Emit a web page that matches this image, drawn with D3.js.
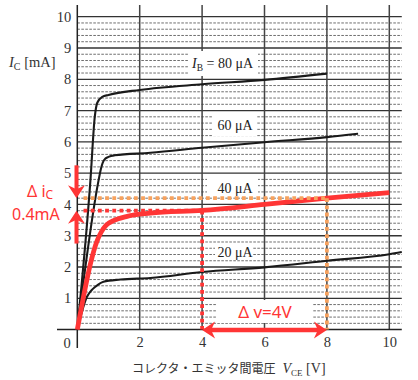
<!DOCTYPE html>
<html><head><meta charset="utf-8">
<script src="https://cdn.jsdelivr.net/npm/d3@7"></script>
<style>body{margin:0;background:#fff}svg{display:block}</style>
</head><body>
<svg id="c" width="418" height="380"></svg>
<script>
// ---- data ----
const xTicks = [2, 4, 6, 8, 10];
const yTicks = [1, 2, 3, 4, 5, 6, 7, 8, 9, 10];
const ib80V = [0, 0.42, 0.56, 0.64, 0.8, 1.0, 2.0, 4, 6, 8];
const ib80I = [0, 4.76, 6.8, 7.25, 7.44, 7.5, 7.66, 7.84, 7.98, 8.18];
const ib60V = [0, 0.68, 0.76, 0.86, 1.0, 1.2, 2.34, 4, 6, 8, 9];
const ib60I = [0, 4.76, 5.15, 5.42, 5.52, 5.57, 5.65, 5.81, 5.99, 6.15, 6.26];
const ib40V = [0, 0.66, 0.78, 0.92, 1.16, 1.6, 2.34, 4, 6, 8, 10];
const ib40I = [0, 2.9, 3.14, 3.33, 3.48, 3.62, 3.72, 3.81, 4.0, 4.2, 4.38];
const ib20V = [0, 0.31, 0.45, 0.58, 0.84, 1.38, 2.34, 4, 6, 8, 10, 10.4];
const ib20I = [0, 1.05, 1.25, 1.37, 1.53, 1.6, 1.65, 1.84, 1.99, 2.2, 2.41, 2.48];
const v1 = 4, v2 = 8;       // Δv endpoints
const i1 = 3.8, i2 = 4.2;   // Δi endpoints
const curveLabels = ["60 μA", "40 μA", "20 μA"];

// ---- scales ----
const svg = d3.select("#c");
const x = d3.scaleLinear().domain([0, 10]).range([77.3, 389.3]);
const y = d3.scaleLinear().domain([0, 10]).range([329.6, 16.7]);
const serif = "'Liberation Serif','DejaVu Serif',serif";
const sans = "'Noto Sans','DejaVu Sans',sans-serif";
const RED = "#ff3535", ORANGE = "#f7a25e", TXT = "#333";

// ---- grid ----
const g = svg.append("g");
const minor = d3.range(1, 50).map(d => d / 5).filter(d => Math.abs(d - Math.round(d)) > 1e-6);
g.selectAll(".mn").data(minor).join("line")
  .attr("x1", x(0)).attr("x2", x(10.4)).attr("y1", d => y(d)).attr("y2", d => y(d))
  .attr("stroke", "#5e5e5e").attr("stroke-width", 0.9).attr("stroke-dasharray", "2.6,1.4");
g.selectAll(".mj").data(yTicks).join("line")
  .attr("x1", x(0)).attr("x2", x(10.4)).attr("y1", d => y(d)).attr("y2", d => y(d))
  .attr("stroke", "#333").attr("stroke-width", 1.3);
g.selectAll(".vg").data(xTicks).join("line")
  .attr("x1", d => x(d)).attr("x2", d => x(d)).attr("y1", 5).attr("y2", y(0))
  .attr("stroke", "#444").attr("stroke-width", 1.5);
// axes lines
g.append("line").attr("x1", 57).attr("x2", x(10.4)).attr("y1", y(0)).attr("y2", y(0))
  .attr("stroke", "#222").attr("stroke-width", 1.5);
g.append("line").attr("x1", x(0)).attr("x2", x(0)).attr("y1", 5).attr("y2", 348)
  .attr("stroke", "#222").attr("stroke-width", 1.5);

// ---- label boxes (white) ----
const boxes = [
  [188, 51, 70, 25], [213, 114, 44, 22], [207, 174, 51, 20], [215, 243, 38, 17], [217, 300, 96, 23]
];
svg.selectAll(".bx").data(boxes).join("rect")
  .attr("x", d => d[0]).attr("y", d => d[1]).attr("width", d => d[2]).attr("height", d => d[3])
  .attr("fill", "#fff");

// ---- tick labels via axes ----
const ax = svg.append("g").attr("transform", `translate(0,${y(0)})`)
  .call(d3.axisBottom(x).tickValues(xTicks).tickSize(0).tickPadding(7));
ax.select(".domain").remove();
ax.selectAll("text").attr("font-family", serif).attr("font-size", 14.5).attr("fill", TXT);
const ay = svg.append("g").attr("transform", `translate(${x(0)},0)`)
  .call(d3.axisLeft(y).tickValues(yTicks).tickSize(0).tickPadding(6));
ay.select(".domain").remove();
ay.selectAll("text").attr("font-family", serif).attr("font-size", 14.5).attr("fill", TXT);
svg.append("text").attr("x", 67).attr("y", 348).attr("text-anchor", "middle")
  .attr("font-family", serif).attr("font-size", 14.5).attr("fill", TXT).text("0");

// axis titles
const yt = svg.append("text").attr("x", 9).attr("y", 67).attr("font-family", serif)
  .attr("font-size", 14.5).attr("fill", TXT);
yt.append("tspan").attr("font-style", "italic").text("I");
yt.append("tspan").attr("font-size", 10).attr("dy", 3).text("C");
yt.append("tspan").attr("dy", -3).text(" [mA]");
const xt = svg.append("text").attr("x", 132).attr("y", 373).attr("font-size", 12).attr("fill", TXT);
xt.append("tspan").attr("font-family", "'Noto Sans CJK JP',sans-serif").text("コレクタ・エミッタ間電圧");
xt.append("tspan").attr("font-family", serif).attr("font-style", "italic").attr("font-size", 14).attr("dx", 7).text("V");
xt.append("tspan").attr("font-family", serif).attr("font-size", 9).attr("dy", 3).text("CE");
xt.append("tspan").attr("font-family", serif).attr("font-size", 14).attr("dy", -3).text(" [V]");

// ---- curves ----
const line = d3.line().x(d => x(d[0])).y(d => y(d[1])).curve(d3.curveMonotoneX);
const zip = (a, b) => a.map((v, i) => [v, b[i]]);
[[ib80V, ib80I], [ib60V, ib60I], [ib20V, ib20I]].forEach(([vv, ii]) => {
  svg.append("path").attr("d", line(zip(vv, ii))).attr("fill", "none")
    .attr("stroke", "#1a1a1a").attr("stroke-width", 2.1);
});
// dotted guides
const dot = (x1, y1, x2, y2, c) => svg.append("line").attr("x1", x1).attr("y1", y1)
  .attr("x2", x2).attr("y2", y2).attr("stroke", c).attr("stroke-width", 3.8)
  .attr("stroke-dasharray", "3.8,3.4");
dot(x(0.2), y(i1), x(v1), y(i1), RED);
dot(x(v1), y(i1), x(v1), y(0), RED);
svg.append("path").attr("d", line(zip(ib40V, ib40I))).attr("fill", "none")
  .attr("stroke", RED).attr("stroke-width", 4.8);
dot(x(0.2), y(i2), x(v2), y(i2), ORANGE);
dot(x(v2), y(i2), x(v2), y(0), ORANGE);

// ---- curve labels ----
const lab80 = svg.append("text").attr("x", 192).attr("y", 68).attr("font-family", serif)
  .attr("font-size", 14).attr("fill", "#222");
lab80.append("tspan").attr("font-style", "italic").text("I");
lab80.append("tspan").attr("font-size", 9.5).attr("dy", 3).text("B");
lab80.append("tspan").attr("dy", -3).text(" = 80 μA");
const labY = [130, 193, 257];
curveLabels.forEach((t, i) => svg.append("text").attr("x", 235).attr("y", labY[i])
  .attr("text-anchor", "middle").attr("font-family", serif).attr("font-size", 14)
  .attr("fill", "#222").text(t));

// ---- red annotations ----
const head = (tx, ty, ang) => svg.append("path")
  .attr("d", "M0,0 L-8.5,-13 L0,-9 L8.5,-13 Z")
  .attr("transform", `translate(${tx},${ty}) rotate(${ang})`).attr("fill", RED);
const ax0 = 76.5;
svg.append("line").attr("x1", ax0).attr("x2", ax0).attr("y1", y(5.25)).attr("y2", y(i2) - 8)
  .attr("stroke", RED).attr("stroke-width", 4);
head(ax0, y(i2), 0);
svg.append("line").attr("x1", ax0).attr("x2", ax0).attr("y1", y(2.75)).attr("y2", y(i1) + 8)
  .attr("stroke", RED).attr("stroke-width", 4);
head(ax0, y(i1), 180);
const ty = y(0) + 0.5;
svg.append("line").attr("x1", x(v1) + 8).attr("x2", x(v2) - 8).attr("y1", ty).attr("y2", ty)
  .attr("stroke", RED).attr("stroke-width", 4.5);
head(x(v1), ty, 90);
head(x(v2), ty, -90);

const di = svg.append("text").attr("x", 27).attr("y", 197).attr("font-family", sans)
  .attr("font-size", 16).attr("fill", RED);
di.append("tspan").text("Δ i");
di.append("tspan").attr("font-size", 12).attr("dy", 2).text("C");
svg.append("text").attr("x", 12).attr("y", 220).attr("font-family", sans)
  .attr("font-size", 16).attr("fill", RED).text("0.4mA");
svg.append("text").attr("x", 265).attr("y", 318).attr("text-anchor", "middle")
  .attr("font-family", sans).attr("font-size", 17).attr("fill", RED).text("Δ v=4V");
</script>
</body></html>
